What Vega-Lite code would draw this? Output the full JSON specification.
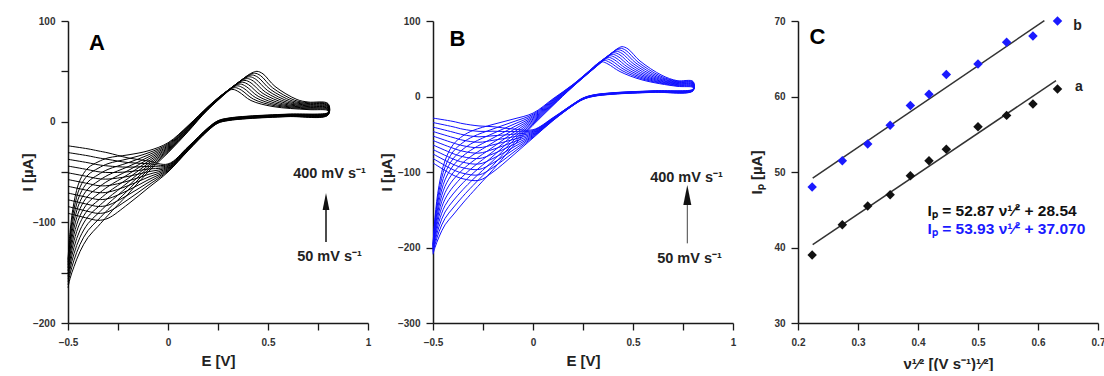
{
"$schema": "https://vega.github.io/schema/vega-lite/v6.json",
"padding": {"left": 20, "top": 16, "right": 0, "bottom": 0},
"spacing": 65,
"bounds": "flush",
"config": {
  "view": {"stroke": null},
  "font": "Liberation Sans",
  "axis": {"grid": false, "ticks": true, "tickSize": 7, "domainColor": "#1a1a1a", "domainWidth": 1.5, "tickColor": "#1a1a1a", "tickWidth": 1.3, "labelFont": "Liberation Sans", "labelFontSize": 10, "labelFontWeight": "bold", "labelColor": "#333", "labelFlush": false, "labelOverlap": false, "titleFont": "Liberation Sans", "titleFontSize": 15, "titleFontWeight": "bold", "titleColor": "#222"}
},
"datasets": {
"A": [
{"k":0,"o":1,"E":-0.5,"I":-137},{"k":0,"o":2,"E":-0.49,"I":-110},{"k":0,"o":3,"E":-0.47,"I":-80},{"k":0,"o":4,"E":-0.44,"I":-58},{"k":0,"o":5,"E":-0.4,"I":-46},{"k":0,"o":6,"E":-0.35,"I":-40},{"k":0,"o":7,"E":-0.3,"I":-36},{"k":0,"o":8,"E":-0.2,"I":-33},{"k":0,"o":9,"E":-0.1,"I":-29},{"k":0,"o":10,"E":0,"I":-21},{"k":0,"o":11,"E":0.1,"I":-4},{"k":0,"o":12,"E":0.2,"I":15},{"k":0,"o":13,"E":0.265,"I":26},{"k":0,"o":14,"E":0.3,"I":30.5},{"k":0,"o":15,"E":0.325,"I":32},{"k":0,"o":16,"E":0.355,"I":29.5},{"k":0,"o":17,"E":0.415,"I":21},{"k":0,"o":18,"E":0.525,"I":15},{"k":0,"o":19,"E":0.7,"I":12},{"k":0,"o":20,"E":0.8,"I":11},{"k":0,"o":21,"E":0.8,"I":9},{"k":0,"o":22,"E":0.6,"I":7.5},{"k":0,"o":23,"E":0.4,"I":5.5},{"k":0,"o":24,"E":0.3,"I":3.5},{"k":0,"o":25,"E":0.25,"I":1},{"k":0,"o":26,"E":0.2,"I":-6},{"k":0,"o":27,"E":0.1,"I":-25},{"k":0,"o":28,"E":0,"I":-42},{"k":0,"o":29,"E":-0.1,"I":-39},{"k":0,"o":30,"E":-0.2,"I":-36},{"k":0,"o":31,"E":-0.3,"I":-31},{"k":0,"o":32,"E":-0.35,"I":-29},{"k":0,"o":33,"E":-0.4,"I":-27},{"k":0,"o":34,"E":-0.5,"I":-24},
{"k":1,"o":1,"E":-0.5,"I":-139.8},{"k":1,"o":2,"E":-0.49,"I":-114.6},{"k":1,"o":3,"E":-0.47,"I":-86.4},{"k":1,"o":4,"E":-0.44,"I":-65.1},{"k":1,"o":5,"E":-0.4,"I":-52.9},{"k":1,"o":6,"E":-0.35,"I":-46.4},{"k":1,"o":7,"E":-0.3,"I":-41.7},{"k":1,"o":8,"E":-0.2,"I":-36.9},{"k":1,"o":9,"E":-0.1,"I":-31.1},{"k":1,"o":10,"E":0,"I":-22},{"k":1,"o":11,"E":0.1,"I":-4.6},{"k":1,"o":12,"E":0.2,"I":14.7},{"k":1,"o":13,"E":0.277,"I":27.8},{"k":1,"o":14,"E":0.312,"I":32.3},{"k":1,"o":15,"E":0.337,"I":33.8},{"k":1,"o":16,"E":0.367,"I":31.3},{"k":1,"o":17,"E":0.427,"I":22.4},{"k":1,"o":18,"E":0.537,"I":15.7},{"k":1,"o":19,"E":0.7,"I":12.75},{"k":1,"o":20,"E":0.8,"I":11.7},{"k":1,"o":21,"E":0.8,"I":8.75},{"k":1,"o":22,"E":0.6,"I":7.25},{"k":1,"o":23,"E":0.4,"I":5.25},{"k":1,"o":24,"E":0.3,"I":3.25},{"k":1,"o":25,"E":0.25,"I":0.75},{"k":1,"o":26,"E":0.2,"I":-6.3},{"k":1,"o":27,"E":0.1,"I":-25.4},{"k":1,"o":28,"E":0,"I":-42.8},{"k":1,"o":29,"E":-0.1,"I":-41.7},{"k":1,"o":30,"E":-0.2,"I":-40.6},{"k":1,"o":31,"E":-0.3,"I":-37.5},{"k":1,"o":32,"E":-0.35,"I":-35.9},{"k":1,"o":33,"E":-0.4,"I":-33.9},{"k":1,"o":34,"E":-0.5,"I":-30.7},
{"k":2,"o":1,"E":-0.5,"I":-142.6},{"k":2,"o":2,"E":-0.49,"I":-119.2},{"k":2,"o":3,"E":-0.47,"I":-92.8},{"k":2,"o":4,"E":-0.44,"I":-72.2},{"k":2,"o":5,"E":-0.4,"I":-59.8},{"k":2,"o":6,"E":-0.35,"I":-52.8},{"k":2,"o":7,"E":-0.3,"I":-47.4},{"k":2,"o":8,"E":-0.2,"I":-40.8},{"k":2,"o":9,"E":-0.1,"I":-33.2},{"k":2,"o":10,"E":0,"I":-23},{"k":2,"o":11,"E":0.1,"I":-5.2},{"k":2,"o":12,"E":0.2,"I":14.4},{"k":2,"o":13,"E":0.289,"I":29.6},{"k":2,"o":14,"E":0.324,"I":34.1},{"k":2,"o":15,"E":0.349,"I":35.6},{"k":2,"o":16,"E":0.379,"I":33.1},{"k":2,"o":17,"E":0.439,"I":23.8},{"k":2,"o":18,"E":0.549,"I":16.4},{"k":2,"o":19,"E":0.7,"I":13.5},{"k":2,"o":20,"E":0.8,"I":12.4},{"k":2,"o":21,"E":0.8,"I":8.5},{"k":2,"o":22,"E":0.6,"I":7},{"k":2,"o":23,"E":0.4,"I":5},{"k":2,"o":24,"E":0.3,"I":3},{"k":2,"o":25,"E":0.25,"I":0.5},{"k":2,"o":26,"E":0.2,"I":-6.6},{"k":2,"o":27,"E":0.1,"I":-25.8},{"k":2,"o":28,"E":0,"I":-43.6},{"k":2,"o":29,"E":-0.1,"I":-44.4},{"k":2,"o":30,"E":-0.2,"I":-45.2},{"k":2,"o":31,"E":-0.3,"I":-44},{"k":2,"o":32,"E":-0.35,"I":-42.8},{"k":2,"o":33,"E":-0.4,"I":-40.8},{"k":2,"o":34,"E":-0.5,"I":-37.4},
{"k":3,"o":1,"E":-0.5,"I":-145.4},{"k":3,"o":2,"E":-0.49,"I":-123.8},{"k":3,"o":3,"E":-0.47,"I":-99.2},{"k":3,"o":4,"E":-0.44,"I":-79.3},{"k":3,"o":5,"E":-0.4,"I":-66.7},{"k":3,"o":6,"E":-0.35,"I":-59.2},{"k":3,"o":7,"E":-0.3,"I":-53.1},{"k":3,"o":8,"E":-0.2,"I":-44.7},{"k":3,"o":9,"E":-0.1,"I":-35.3},{"k":3,"o":10,"E":0,"I":-24},{"k":3,"o":11,"E":0.1,"I":-5.8},{"k":3,"o":12,"E":0.2,"I":14.1},{"k":3,"o":13,"E":0.301,"I":31.4},{"k":3,"o":14,"E":0.336,"I":35.9},{"k":3,"o":15,"E":0.361,"I":37.4},{"k":3,"o":16,"E":0.391,"I":34.9},{"k":3,"o":17,"E":0.451,"I":25.2},{"k":3,"o":18,"E":0.561,"I":17.1},{"k":3,"o":19,"E":0.7,"I":14.25},{"k":3,"o":20,"E":0.8,"I":13.1},{"k":3,"o":21,"E":0.8,"I":8.25},{"k":3,"o":22,"E":0.6,"I":6.75},{"k":3,"o":23,"E":0.4,"I":4.75},{"k":3,"o":24,"E":0.3,"I":2.75},{"k":3,"o":25,"E":0.25,"I":0.25},{"k":3,"o":26,"E":0.2,"I":-6.9},{"k":3,"o":27,"E":0.1,"I":-26.2},{"k":3,"o":28,"E":0,"I":-44.4},{"k":3,"o":29,"E":-0.1,"I":-47.1},{"k":3,"o":30,"E":-0.2,"I":-49.8},{"k":3,"o":31,"E":-0.3,"I":-50.5},{"k":3,"o":32,"E":-0.35,"I":-49.7},{"k":3,"o":33,"E":-0.4,"I":-47.7},{"k":3,"o":34,"E":-0.5,"I":-44.1},
{"k":4,"o":1,"E":-0.5,"I":-148.2},{"k":4,"o":2,"E":-0.49,"I":-128.4},{"k":4,"o":3,"E":-0.47,"I":-105.6},{"k":4,"o":4,"E":-0.44,"I":-86.4},{"k":4,"o":5,"E":-0.4,"I":-73.6},{"k":4,"o":6,"E":-0.35,"I":-65.6},{"k":4,"o":7,"E":-0.3,"I":-58.8},{"k":4,"o":8,"E":-0.2,"I":-48.6},{"k":4,"o":9,"E":-0.1,"I":-37.4},{"k":4,"o":10,"E":0,"I":-25},{"k":4,"o":11,"E":0.1,"I":-6.4},{"k":4,"o":12,"E":0.2,"I":13.8},{"k":4,"o":13,"E":0.313,"I":33.2},{"k":4,"o":14,"E":0.348,"I":37.7},{"k":4,"o":15,"E":0.373,"I":39.2},{"k":4,"o":16,"E":0.403,"I":36.7},{"k":4,"o":17,"E":0.463,"I":26.6},{"k":4,"o":18,"E":0.573,"I":17.8},{"k":4,"o":19,"E":0.7,"I":15},{"k":4,"o":20,"E":0.8,"I":13.8},{"k":4,"o":21,"E":0.8,"I":8},{"k":4,"o":22,"E":0.6,"I":6.5},{"k":4,"o":23,"E":0.4,"I":4.5},{"k":4,"o":24,"E":0.3,"I":2.5},{"k":4,"o":25,"E":0.25,"I":0},{"k":4,"o":26,"E":0.2,"I":-7.2},{"k":4,"o":27,"E":0.1,"I":-26.6},{"k":4,"o":28,"E":0,"I":-45.2},{"k":4,"o":29,"E":-0.1,"I":-49.8},{"k":4,"o":30,"E":-0.2,"I":-54.4},{"k":4,"o":31,"E":-0.3,"I":-57},{"k":4,"o":32,"E":-0.35,"I":-56.6},{"k":4,"o":33,"E":-0.4,"I":-54.6},{"k":4,"o":34,"E":-0.5,"I":-50.8},
{"k":5,"o":1,"E":-0.5,"I":-151},{"k":5,"o":2,"E":-0.49,"I":-133},{"k":5,"o":3,"E":-0.47,"I":-112},{"k":5,"o":4,"E":-0.44,"I":-93.5},{"k":5,"o":5,"E":-0.4,"I":-80.5},{"k":5,"o":6,"E":-0.35,"I":-72},{"k":5,"o":7,"E":-0.3,"I":-64.5},{"k":5,"o":8,"E":-0.2,"I":-52.5},{"k":5,"o":9,"E":-0.1,"I":-39.5},{"k":5,"o":10,"E":0,"I":-26},{"k":5,"o":11,"E":0.1,"I":-7},{"k":5,"o":12,"E":0.2,"I":13.5},{"k":5,"o":13,"E":0.325,"I":35},{"k":5,"o":14,"E":0.36,"I":39.5},{"k":5,"o":15,"E":0.385,"I":41},{"k":5,"o":16,"E":0.415,"I":38.5},{"k":5,"o":17,"E":0.475,"I":28},{"k":5,"o":18,"E":0.585,"I":18.5},{"k":5,"o":19,"E":0.7,"I":15.75},{"k":5,"o":20,"E":0.8,"I":14.5},{"k":5,"o":21,"E":0.8,"I":7.75},{"k":5,"o":22,"E":0.6,"I":6.25},{"k":5,"o":23,"E":0.4,"I":4.25},{"k":5,"o":24,"E":0.3,"I":2.25},{"k":5,"o":25,"E":0.25,"I":-0.25},{"k":5,"o":26,"E":0.2,"I":-7.5},{"k":5,"o":27,"E":0.1,"I":-27},{"k":5,"o":28,"E":0,"I":-46},{"k":5,"o":29,"E":-0.1,"I":-52.5},{"k":5,"o":30,"E":-0.2,"I":-59},{"k":5,"o":31,"E":-0.3,"I":-63.5},{"k":5,"o":32,"E":-0.35,"I":-63.5},{"k":5,"o":33,"E":-0.4,"I":-61.5},{"k":5,"o":34,"E":-0.5,"I":-57.5},
{"k":6,"o":1,"E":-0.5,"I":-153.8},{"k":6,"o":2,"E":-0.49,"I":-137.6},{"k":6,"o":3,"E":-0.47,"I":-118.4},{"k":6,"o":4,"E":-0.44,"I":-100.6},{"k":6,"o":5,"E":-0.4,"I":-87.4},{"k":6,"o":6,"E":-0.35,"I":-78.4},{"k":6,"o":7,"E":-0.3,"I":-70.2},{"k":6,"o":8,"E":-0.2,"I":-56.4},{"k":6,"o":9,"E":-0.1,"I":-41.6},{"k":6,"o":10,"E":0,"I":-27},{"k":6,"o":11,"E":0.1,"I":-7.6},{"k":6,"o":12,"E":0.2,"I":13.2},{"k":6,"o":13,"E":0.337,"I":36.8},{"k":6,"o":14,"E":0.372,"I":41.3},{"k":6,"o":15,"E":0.397,"I":42.8},{"k":6,"o":16,"E":0.427,"I":40.3},{"k":6,"o":17,"E":0.487,"I":29.4},{"k":6,"o":18,"E":0.597,"I":19.2},{"k":6,"o":19,"E":0.7,"I":16.5},{"k":6,"o":20,"E":0.8,"I":15.2},{"k":6,"o":21,"E":0.8,"I":7.5},{"k":6,"o":22,"E":0.6,"I":6},{"k":6,"o":23,"E":0.4,"I":4},{"k":6,"o":24,"E":0.3,"I":2},{"k":6,"o":25,"E":0.25,"I":-0.5},{"k":6,"o":26,"E":0.2,"I":-7.8},{"k":6,"o":27,"E":0.1,"I":-27.4},{"k":6,"o":28,"E":0,"I":-46.8},{"k":6,"o":29,"E":-0.1,"I":-55.2},{"k":6,"o":30,"E":-0.2,"I":-63.6},{"k":6,"o":31,"E":-0.3,"I":-70},{"k":6,"o":32,"E":-0.35,"I":-70.4},{"k":6,"o":33,"E":-0.4,"I":-68.4},{"k":6,"o":34,"E":-0.5,"I":-64.2},
{"k":7,"o":1,"E":-0.5,"I":-156.6},{"k":7,"o":2,"E":-0.49,"I":-142.2},{"k":7,"o":3,"E":-0.47,"I":-124.8},{"k":7,"o":4,"E":-0.44,"I":-107.7},{"k":7,"o":5,"E":-0.4,"I":-94.3},{"k":7,"o":6,"E":-0.35,"I":-84.8},{"k":7,"o":7,"E":-0.3,"I":-75.9},{"k":7,"o":8,"E":-0.2,"I":-60.3},{"k":7,"o":9,"E":-0.1,"I":-43.7},{"k":7,"o":10,"E":0,"I":-28},{"k":7,"o":11,"E":0.1,"I":-8.2},{"k":7,"o":12,"E":0.2,"I":12.9},{"k":7,"o":13,"E":0.349,"I":38.6},{"k":7,"o":14,"E":0.384,"I":43.1},{"k":7,"o":15,"E":0.409,"I":44.6},{"k":7,"o":16,"E":0.439,"I":42.1},{"k":7,"o":17,"E":0.499,"I":30.8},{"k":7,"o":18,"E":0.609,"I":19.9},{"k":7,"o":19,"E":0.7,"I":17.25},{"k":7,"o":20,"E":0.8,"I":15.9},{"k":7,"o":21,"E":0.8,"I":7.25},{"k":7,"o":22,"E":0.6,"I":5.75},{"k":7,"o":23,"E":0.4,"I":3.75},{"k":7,"o":24,"E":0.3,"I":1.75},{"k":7,"o":25,"E":0.25,"I":-0.75},{"k":7,"o":26,"E":0.2,"I":-8.1},{"k":7,"o":27,"E":0.1,"I":-27.8},{"k":7,"o":28,"E":0,"I":-47.6},{"k":7,"o":29,"E":-0.1,"I":-57.9},{"k":7,"o":30,"E":-0.2,"I":-68.2},{"k":7,"o":31,"E":-0.3,"I":-76.5},{"k":7,"o":32,"E":-0.35,"I":-77.3},{"k":7,"o":33,"E":-0.4,"I":-75.3},{"k":7,"o":34,"E":-0.5,"I":-70.9},
{"k":8,"o":1,"E":-0.5,"I":-159.4},{"k":8,"o":2,"E":-0.49,"I":-146.8},{"k":8,"o":3,"E":-0.47,"I":-131.2},{"k":8,"o":4,"E":-0.44,"I":-114.8},{"k":8,"o":5,"E":-0.4,"I":-101.2},{"k":8,"o":6,"E":-0.35,"I":-91.2},{"k":8,"o":7,"E":-0.3,"I":-81.6},{"k":8,"o":8,"E":-0.2,"I":-64.2},{"k":8,"o":9,"E":-0.1,"I":-45.8},{"k":8,"o":10,"E":0,"I":-29},{"k":8,"o":11,"E":0.1,"I":-8.8},{"k":8,"o":12,"E":0.2,"I":12.6},{"k":8,"o":13,"E":0.361,"I":40.4},{"k":8,"o":14,"E":0.396,"I":44.9},{"k":8,"o":15,"E":0.421,"I":46.4},{"k":8,"o":16,"E":0.451,"I":43.9},{"k":8,"o":17,"E":0.511,"I":32.2},{"k":8,"o":18,"E":0.621,"I":20.6},{"k":8,"o":19,"E":0.7,"I":18},{"k":8,"o":20,"E":0.8,"I":16.6},{"k":8,"o":21,"E":0.8,"I":7},{"k":8,"o":22,"E":0.6,"I":5.5},{"k":8,"o":23,"E":0.4,"I":3.5},{"k":8,"o":24,"E":0.3,"I":1.5},{"k":8,"o":25,"E":0.25,"I":-1},{"k":8,"o":26,"E":0.2,"I":-8.4},{"k":8,"o":27,"E":0.1,"I":-28.2},{"k":8,"o":28,"E":0,"I":-48.4},{"k":8,"o":29,"E":-0.1,"I":-60.6},{"k":8,"o":30,"E":-0.2,"I":-72.8},{"k":8,"o":31,"E":-0.3,"I":-83},{"k":8,"o":32,"E":-0.35,"I":-84.2},{"k":8,"o":33,"E":-0.4,"I":-82.2},{"k":8,"o":34,"E":-0.5,"I":-77.6},
{"k":9,"o":1,"E":-0.5,"I":-162.2},{"k":9,"o":2,"E":-0.49,"I":-151.4},{"k":9,"o":3,"E":-0.47,"I":-137.6},{"k":9,"o":4,"E":-0.44,"I":-121.9},{"k":9,"o":5,"E":-0.4,"I":-108.1},{"k":9,"o":6,"E":-0.35,"I":-97.6},{"k":9,"o":7,"E":-0.3,"I":-87.3},{"k":9,"o":8,"E":-0.2,"I":-68.1},{"k":9,"o":9,"E":-0.1,"I":-47.9},{"k":9,"o":10,"E":0,"I":-30},{"k":9,"o":11,"E":0.1,"I":-9.4},{"k":9,"o":12,"E":0.2,"I":12.3},{"k":9,"o":13,"E":0.373,"I":42.2},{"k":9,"o":14,"E":0.408,"I":46.7},{"k":9,"o":15,"E":0.433,"I":48.2},{"k":9,"o":16,"E":0.463,"I":45.7},{"k":9,"o":17,"E":0.523,"I":33.6},{"k":9,"o":18,"E":0.633,"I":21.3},{"k":9,"o":19,"E":0.7,"I":18.75},{"k":9,"o":20,"E":0.8,"I":17.3},{"k":9,"o":21,"E":0.8,"I":6.75},{"k":9,"o":22,"E":0.6,"I":5.25},{"k":9,"o":23,"E":0.4,"I":3.25},{"k":9,"o":24,"E":0.3,"I":1.25},{"k":9,"o":25,"E":0.25,"I":-1.25},{"k":9,"o":26,"E":0.2,"I":-8.7},{"k":9,"o":27,"E":0.1,"I":-28.6},{"k":9,"o":28,"E":0,"I":-49.2},{"k":9,"o":29,"E":-0.1,"I":-63.3},{"k":9,"o":30,"E":-0.2,"I":-77.4},{"k":9,"o":31,"E":-0.3,"I":-89.5},{"k":9,"o":32,"E":-0.35,"I":-91.1},{"k":9,"o":33,"E":-0.4,"I":-89.1},{"k":9,"o":34,"E":-0.5,"I":-84.3},
{"k":10,"o":1,"E":-0.5,"I":-165},{"k":10,"o":2,"E":-0.49,"I":-156},{"k":10,"o":3,"E":-0.47,"I":-144},{"k":10,"o":4,"E":-0.44,"I":-129},{"k":10,"o":5,"E":-0.4,"I":-115},{"k":10,"o":6,"E":-0.35,"I":-104},{"k":10,"o":7,"E":-0.3,"I":-93},{"k":10,"o":8,"E":-0.2,"I":-72},{"k":10,"o":9,"E":-0.1,"I":-50},{"k":10,"o":10,"E":0,"I":-31},{"k":10,"o":11,"E":0.1,"I":-10},{"k":10,"o":12,"E":0.2,"I":12},{"k":10,"o":13,"E":0.385,"I":44},{"k":10,"o":14,"E":0.42,"I":48.5},{"k":10,"o":15,"E":0.445,"I":50},{"k":10,"o":16,"E":0.475,"I":47.5},{"k":10,"o":17,"E":0.535,"I":35},{"k":10,"o":18,"E":0.645,"I":22},{"k":10,"o":19,"E":0.7,"I":19.5},{"k":10,"o":20,"E":0.8,"I":18},{"k":10,"o":21,"E":0.8,"I":6.5},{"k":10,"o":22,"E":0.6,"I":5},{"k":10,"o":23,"E":0.4,"I":3},{"k":10,"o":24,"E":0.3,"I":1},{"k":10,"o":25,"E":0.25,"I":-1.5},{"k":10,"o":26,"E":0.2,"I":-9},{"k":10,"o":27,"E":0.1,"I":-29},{"k":10,"o":28,"E":0,"I":-50},{"k":10,"o":29,"E":-0.1,"I":-66},{"k":10,"o":30,"E":-0.2,"I":-82},{"k":10,"o":31,"E":-0.3,"I":-96},{"k":10,"o":32,"E":-0.35,"I":-98},{"k":10,"o":33,"E":-0.4,"I":-96},{"k":10,"o":34,"E":-0.5,"I":-91}
],
"B": [
{"k":0,"o":1,"E":-0.5,"I":-196},{"k":0,"o":2,"E":-0.49,"I":-160},{"k":0,"o":3,"E":-0.47,"I":-118},{"k":0,"o":4,"E":-0.44,"I":-85},{"k":0,"o":5,"E":-0.4,"I":-64},{"k":0,"o":6,"E":-0.35,"I":-52},{"k":0,"o":7,"E":-0.3,"I":-45},{"k":0,"o":8,"E":-0.2,"I":-37},{"k":0,"o":9,"E":-0.1,"I":-30},{"k":0,"o":10,"E":0,"I":-22},{"k":0,"o":11,"E":0.1,"I":-3},{"k":0,"o":12,"E":0.2,"I":16},{"k":0,"o":13,"E":0.285,"I":35},{"k":0,"o":14,"E":0.32,"I":43},{"k":0,"o":15,"E":0.345,"I":46},{"k":0,"o":16,"E":0.375,"I":43},{"k":0,"o":17,"E":0.435,"I":33},{"k":0,"o":18,"E":0.545,"I":22},{"k":0,"o":19,"E":0.72,"I":13.5},{"k":0,"o":20,"E":0.8,"I":12},{"k":0,"o":21,"E":0.8,"I":9.5},{"k":0,"o":22,"E":0.6,"I":7.5},{"k":0,"o":23,"E":0.4,"I":5},{"k":0,"o":24,"E":0.3,"I":2},{"k":0,"o":25,"E":0.25,"I":-2},{"k":0,"o":26,"E":0.2,"I":-10},{"k":0,"o":27,"E":0.1,"I":-28},{"k":0,"o":28,"E":0,"I":-44},{"k":0,"o":29,"E":-0.1,"I":-43},{"k":0,"o":30,"E":-0.2,"I":-40},{"k":0,"o":31,"E":-0.27,"I":-39},{"k":0,"o":32,"E":-0.35,"I":-36},{"k":0,"o":33,"E":-0.4,"I":-33},{"k":0,"o":34,"E":-0.5,"I":-28.6},
{"k":1,"o":1,"E":-0.5,"I":-197.3},{"k":1,"o":2,"E":-0.49,"I":-164},{"k":1,"o":3,"E":-0.47,"I":-124.8},{"k":1,"o":4,"E":-0.44,"I":-93.5},{"k":1,"o":5,"E":-0.4,"I":-73.3},{"k":1,"o":6,"E":-0.35,"I":-60.9},{"k":1,"o":7,"E":-0.3,"I":-53.1},{"k":1,"o":8,"E":-0.2,"I":-43},{"k":1,"o":9,"E":-0.1,"I":-33.6},{"k":1,"o":10,"E":0,"I":-23.6},{"k":1,"o":11,"E":0.1,"I":-3.9},{"k":1,"o":12,"E":0.2,"I":15.7},{"k":1,"o":13,"E":0.295,"I":37},{"k":1,"o":14,"E":0.33,"I":45},{"k":1,"o":15,"E":0.355,"I":48},{"k":1,"o":16,"E":0.385,"I":45},{"k":1,"o":17,"E":0.445,"I":34.4},{"k":1,"o":18,"E":0.555,"I":22.6},{"k":1,"o":19,"E":0.72,"I":14.25},{"k":1,"o":20,"E":0.8,"I":12.8},{"k":1,"o":21,"E":0.8,"I":9.3},{"k":1,"o":22,"E":0.6,"I":7.3},{"k":1,"o":23,"E":0.4,"I":4.8},{"k":1,"o":24,"E":0.3,"I":1.8},{"k":1,"o":25,"E":0.25,"I":-2.2},{"k":1,"o":26,"E":0.2,"I":-10.2},{"k":1,"o":27,"E":0.1,"I":-28.4},{"k":1,"o":28,"E":0,"I":-45.1},{"k":1,"o":29,"E":-0.1,"I":-46.5},{"k":1,"o":30,"E":-0.2,"I":-46},{"k":1,"o":31,"E":-0.27,"I":-46.2},{"k":1,"o":32,"E":-0.35,"I":-43.3},{"k":1,"o":33,"E":-0.4,"I":-40.1},{"k":1,"o":34,"E":-0.5,"I":-34.5},
{"k":2,"o":1,"E":-0.5,"I":-198.6},{"k":2,"o":2,"E":-0.49,"I":-168},{"k":2,"o":3,"E":-0.47,"I":-131.6},{"k":2,"o":4,"E":-0.44,"I":-102},{"k":2,"o":5,"E":-0.4,"I":-82.6},{"k":2,"o":6,"E":-0.35,"I":-69.8},{"k":2,"o":7,"E":-0.3,"I":-61.2},{"k":2,"o":8,"E":-0.2,"I":-49},{"k":2,"o":9,"E":-0.1,"I":-37.2},{"k":2,"o":10,"E":0,"I":-25.2},{"k":2,"o":11,"E":0.1,"I":-4.8},{"k":2,"o":12,"E":0.2,"I":15.4},{"k":2,"o":13,"E":0.305,"I":39},{"k":2,"o":14,"E":0.34,"I":47},{"k":2,"o":15,"E":0.365,"I":50},{"k":2,"o":16,"E":0.395,"I":47},{"k":2,"o":17,"E":0.455,"I":35.8},{"k":2,"o":18,"E":0.565,"I":23.2},{"k":2,"o":19,"E":0.72,"I":15},{"k":2,"o":20,"E":0.8,"I":13.6},{"k":2,"o":21,"E":0.8,"I":9.1},{"k":2,"o":22,"E":0.6,"I":7.1},{"k":2,"o":23,"E":0.4,"I":4.6},{"k":2,"o":24,"E":0.3,"I":1.6},{"k":2,"o":25,"E":0.25,"I":-2.4},{"k":2,"o":26,"E":0.2,"I":-10.4},{"k":2,"o":27,"E":0.1,"I":-28.8},{"k":2,"o":28,"E":0,"I":-46.2},{"k":2,"o":29,"E":-0.1,"I":-50},{"k":2,"o":30,"E":-0.2,"I":-52},{"k":2,"o":31,"E":-0.27,"I":-53.4},{"k":2,"o":32,"E":-0.35,"I":-50.6},{"k":2,"o":33,"E":-0.4,"I":-47.2},{"k":2,"o":34,"E":-0.5,"I":-40.5},
{"k":3,"o":1,"E":-0.5,"I":-199.9},{"k":3,"o":2,"E":-0.49,"I":-172},{"k":3,"o":3,"E":-0.47,"I":-138.4},{"k":3,"o":4,"E":-0.44,"I":-110.5},{"k":3,"o":5,"E":-0.4,"I":-91.9},{"k":3,"o":6,"E":-0.35,"I":-78.7},{"k":3,"o":7,"E":-0.3,"I":-69.3},{"k":3,"o":8,"E":-0.2,"I":-55},{"k":3,"o":9,"E":-0.1,"I":-40.8},{"k":3,"o":10,"E":0,"I":-26.8},{"k":3,"o":11,"E":0.1,"I":-5.7},{"k":3,"o":12,"E":0.2,"I":15.1},{"k":3,"o":13,"E":0.315,"I":41},{"k":3,"o":14,"E":0.35,"I":49},{"k":3,"o":15,"E":0.375,"I":52},{"k":3,"o":16,"E":0.405,"I":49},{"k":3,"o":17,"E":0.465,"I":37.2},{"k":3,"o":18,"E":0.575,"I":23.8},{"k":3,"o":19,"E":0.72,"I":15.75},{"k":3,"o":20,"E":0.8,"I":14.4},{"k":3,"o":21,"E":0.8,"I":8.9},{"k":3,"o":22,"E":0.6,"I":6.9},{"k":3,"o":23,"E":0.4,"I":4.4},{"k":3,"o":24,"E":0.3,"I":1.4},{"k":3,"o":25,"E":0.25,"I":-2.6},{"k":3,"o":26,"E":0.2,"I":-10.6},{"k":3,"o":27,"E":0.1,"I":-29.2},{"k":3,"o":28,"E":0,"I":-47.3},{"k":3,"o":29,"E":-0.1,"I":-53.5},{"k":3,"o":30,"E":-0.2,"I":-58},{"k":3,"o":31,"E":-0.27,"I":-60.6},{"k":3,"o":32,"E":-0.35,"I":-57.9},{"k":3,"o":33,"E":-0.4,"I":-54.3},{"k":3,"o":34,"E":-0.5,"I":-46.4},
{"k":4,"o":1,"E":-0.5,"I":-201.2},{"k":4,"o":2,"E":-0.49,"I":-176},{"k":4,"o":3,"E":-0.47,"I":-145.2},{"k":4,"o":4,"E":-0.44,"I":-119},{"k":4,"o":5,"E":-0.4,"I":-101.2},{"k":4,"o":6,"E":-0.35,"I":-87.6},{"k":4,"o":7,"E":-0.3,"I":-77.4},{"k":4,"o":8,"E":-0.2,"I":-61},{"k":4,"o":9,"E":-0.1,"I":-44.4},{"k":4,"o":10,"E":0,"I":-28.4},{"k":4,"o":11,"E":0.1,"I":-6.6},{"k":4,"o":12,"E":0.2,"I":14.8},{"k":4,"o":13,"E":0.325,"I":43},{"k":4,"o":14,"E":0.36,"I":51},{"k":4,"o":15,"E":0.385,"I":54},{"k":4,"o":16,"E":0.415,"I":51},{"k":4,"o":17,"E":0.475,"I":38.6},{"k":4,"o":18,"E":0.585,"I":24.4},{"k":4,"o":19,"E":0.72,"I":16.5},{"k":4,"o":20,"E":0.8,"I":15.2},{"k":4,"o":21,"E":0.8,"I":8.7},{"k":4,"o":22,"E":0.6,"I":6.7},{"k":4,"o":23,"E":0.4,"I":4.2},{"k":4,"o":24,"E":0.3,"I":1.2},{"k":4,"o":25,"E":0.25,"I":-2.8},{"k":4,"o":26,"E":0.2,"I":-10.8},{"k":4,"o":27,"E":0.1,"I":-29.6},{"k":4,"o":28,"E":0,"I":-48.4},{"k":4,"o":29,"E":-0.1,"I":-57},{"k":4,"o":30,"E":-0.2,"I":-64},{"k":4,"o":31,"E":-0.27,"I":-67.8},{"k":4,"o":32,"E":-0.35,"I":-65.2},{"k":4,"o":33,"E":-0.4,"I":-61.4},{"k":4,"o":34,"E":-0.5,"I":-52.4},
{"k":5,"o":1,"E":-0.5,"I":-202.5},{"k":5,"o":2,"E":-0.49,"I":-180},{"k":5,"o":3,"E":-0.47,"I":-152},{"k":5,"o":4,"E":-0.44,"I":-127.5},{"k":5,"o":5,"E":-0.4,"I":-110.5},{"k":5,"o":6,"E":-0.35,"I":-96.5},{"k":5,"o":7,"E":-0.3,"I":-85.5},{"k":5,"o":8,"E":-0.2,"I":-67},{"k":5,"o":9,"E":-0.1,"I":-48},{"k":5,"o":10,"E":0,"I":-30},{"k":5,"o":11,"E":0.1,"I":-7.5},{"k":5,"o":12,"E":0.2,"I":14.5},{"k":5,"o":13,"E":0.335,"I":45},{"k":5,"o":14,"E":0.37,"I":53},{"k":5,"o":15,"E":0.395,"I":56},{"k":5,"o":16,"E":0.425,"I":53},{"k":5,"o":17,"E":0.485,"I":40},{"k":5,"o":18,"E":0.595,"I":25},{"k":5,"o":19,"E":0.72,"I":17.25},{"k":5,"o":20,"E":0.8,"I":16},{"k":5,"o":21,"E":0.8,"I":8.5},{"k":5,"o":22,"E":0.6,"I":6.5},{"k":5,"o":23,"E":0.4,"I":4},{"k":5,"o":24,"E":0.3,"I":1},{"k":5,"o":25,"E":0.25,"I":-3},{"k":5,"o":26,"E":0.2,"I":-11},{"k":5,"o":27,"E":0.1,"I":-30},{"k":5,"o":28,"E":0,"I":-49.5},{"k":5,"o":29,"E":-0.1,"I":-60.5},{"k":5,"o":30,"E":-0.2,"I":-70},{"k":5,"o":31,"E":-0.27,"I":-75},{"k":5,"o":32,"E":-0.35,"I":-72.5},{"k":5,"o":33,"E":-0.4,"I":-68.5},{"k":5,"o":34,"E":-0.5,"I":-58.3},
{"k":6,"o":1,"E":-0.5,"I":-203.8},{"k":6,"o":2,"E":-0.49,"I":-184},{"k":6,"o":3,"E":-0.47,"I":-158.8},{"k":6,"o":4,"E":-0.44,"I":-136},{"k":6,"o":5,"E":-0.4,"I":-119.8},{"k":6,"o":6,"E":-0.35,"I":-105.4},{"k":6,"o":7,"E":-0.3,"I":-93.6},{"k":6,"o":8,"E":-0.2,"I":-73},{"k":6,"o":9,"E":-0.1,"I":-51.6},{"k":6,"o":10,"E":0,"I":-31.6},{"k":6,"o":11,"E":0.1,"I":-8.4},{"k":6,"o":12,"E":0.2,"I":14.2},{"k":6,"o":13,"E":0.345,"I":47},{"k":6,"o":14,"E":0.38,"I":55},{"k":6,"o":15,"E":0.405,"I":58},{"k":6,"o":16,"E":0.435,"I":55},{"k":6,"o":17,"E":0.495,"I":41.4},{"k":6,"o":18,"E":0.605,"I":25.6},{"k":6,"o":19,"E":0.72,"I":18},{"k":6,"o":20,"E":0.8,"I":16.8},{"k":6,"o":21,"E":0.8,"I":8.3},{"k":6,"o":22,"E":0.6,"I":6.3},{"k":6,"o":23,"E":0.4,"I":3.8},{"k":6,"o":24,"E":0.3,"I":0.8},{"k":6,"o":25,"E":0.25,"I":-3.2},{"k":6,"o":26,"E":0.2,"I":-11.2},{"k":6,"o":27,"E":0.1,"I":-30.4},{"k":6,"o":28,"E":0,"I":-50.6},{"k":6,"o":29,"E":-0.1,"I":-64},{"k":6,"o":30,"E":-0.2,"I":-76},{"k":6,"o":31,"E":-0.27,"I":-82.2},{"k":6,"o":32,"E":-0.35,"I":-79.8},{"k":6,"o":33,"E":-0.4,"I":-75.6},{"k":6,"o":34,"E":-0.5,"I":-64.2},
{"k":7,"o":1,"E":-0.5,"I":-205.1},{"k":7,"o":2,"E":-0.49,"I":-188},{"k":7,"o":3,"E":-0.47,"I":-165.6},{"k":7,"o":4,"E":-0.44,"I":-144.5},{"k":7,"o":5,"E":-0.4,"I":-129.1},{"k":7,"o":6,"E":-0.35,"I":-114.3},{"k":7,"o":7,"E":-0.3,"I":-101.7},{"k":7,"o":8,"E":-0.2,"I":-79},{"k":7,"o":9,"E":-0.1,"I":-55.2},{"k":7,"o":10,"E":0,"I":-33.2},{"k":7,"o":11,"E":0.1,"I":-9.3},{"k":7,"o":12,"E":0.2,"I":13.9},{"k":7,"o":13,"E":0.355,"I":49},{"k":7,"o":14,"E":0.39,"I":57},{"k":7,"o":15,"E":0.415,"I":60},{"k":7,"o":16,"E":0.445,"I":57},{"k":7,"o":17,"E":0.505,"I":42.8},{"k":7,"o":18,"E":0.615,"I":26.2},{"k":7,"o":19,"E":0.72,"I":18.75},{"k":7,"o":20,"E":0.8,"I":17.6},{"k":7,"o":21,"E":0.8,"I":8.1},{"k":7,"o":22,"E":0.6,"I":6.1},{"k":7,"o":23,"E":0.4,"I":3.6},{"k":7,"o":24,"E":0.3,"I":0.6},{"k":7,"o":25,"E":0.25,"I":-3.4},{"k":7,"o":26,"E":0.2,"I":-11.4},{"k":7,"o":27,"E":0.1,"I":-30.8},{"k":7,"o":28,"E":0,"I":-51.7},{"k":7,"o":29,"E":-0.1,"I":-67.5},{"k":7,"o":30,"E":-0.2,"I":-82},{"k":7,"o":31,"E":-0.27,"I":-89.4},{"k":7,"o":32,"E":-0.35,"I":-87.1},{"k":7,"o":33,"E":-0.4,"I":-82.7},{"k":7,"o":34,"E":-0.5,"I":-70.2},
{"k":8,"o":1,"E":-0.5,"I":-206.4},{"k":8,"o":2,"E":-0.49,"I":-192},{"k":8,"o":3,"E":-0.47,"I":-172.4},{"k":8,"o":4,"E":-0.44,"I":-153},{"k":8,"o":5,"E":-0.4,"I":-138.4},{"k":8,"o":6,"E":-0.35,"I":-123.2},{"k":8,"o":7,"E":-0.3,"I":-109.8},{"k":8,"o":8,"E":-0.2,"I":-85},{"k":8,"o":9,"E":-0.1,"I":-58.8},{"k":8,"o":10,"E":0,"I":-34.8},{"k":8,"o":11,"E":0.1,"I":-10.2},{"k":8,"o":12,"E":0.2,"I":13.6},{"k":8,"o":13,"E":0.365,"I":51},{"k":8,"o":14,"E":0.4,"I":59},{"k":8,"o":15,"E":0.425,"I":62},{"k":8,"o":16,"E":0.455,"I":59},{"k":8,"o":17,"E":0.515,"I":44.2},{"k":8,"o":18,"E":0.625,"I":26.8},{"k":8,"o":19,"E":0.72,"I":19.5},{"k":8,"o":20,"E":0.8,"I":18.4},{"k":8,"o":21,"E":0.8,"I":7.9},{"k":8,"o":22,"E":0.6,"I":5.9},{"k":8,"o":23,"E":0.4,"I":3.4},{"k":8,"o":24,"E":0.3,"I":0.4},{"k":8,"o":25,"E":0.25,"I":-3.6},{"k":8,"o":26,"E":0.2,"I":-11.6},{"k":8,"o":27,"E":0.1,"I":-31.2},{"k":8,"o":28,"E":0,"I":-52.8},{"k":8,"o":29,"E":-0.1,"I":-71},{"k":8,"o":30,"E":-0.2,"I":-88},{"k":8,"o":31,"E":-0.27,"I":-96.6},{"k":8,"o":32,"E":-0.35,"I":-94.4},{"k":8,"o":33,"E":-0.4,"I":-89.8},{"k":8,"o":34,"E":-0.5,"I":-76.1},
{"k":9,"o":1,"E":-0.5,"I":-207.7},{"k":9,"o":2,"E":-0.49,"I":-196},{"k":9,"o":3,"E":-0.47,"I":-179.2},{"k":9,"o":4,"E":-0.44,"I":-161.5},{"k":9,"o":5,"E":-0.4,"I":-147.7},{"k":9,"o":6,"E":-0.35,"I":-132.1},{"k":9,"o":7,"E":-0.3,"I":-117.9},{"k":9,"o":8,"E":-0.2,"I":-91},{"k":9,"o":9,"E":-0.1,"I":-62.4},{"k":9,"o":10,"E":0,"I":-36.4},{"k":9,"o":11,"E":0.1,"I":-11.1},{"k":9,"o":12,"E":0.2,"I":13.3},{"k":9,"o":13,"E":0.375,"I":53},{"k":9,"o":14,"E":0.41,"I":61},{"k":9,"o":15,"E":0.435,"I":64},{"k":9,"o":16,"E":0.465,"I":61},{"k":9,"o":17,"E":0.525,"I":45.6},{"k":9,"o":18,"E":0.635,"I":27.4},{"k":9,"o":19,"E":0.72,"I":20.25},{"k":9,"o":20,"E":0.8,"I":19.2},{"k":9,"o":21,"E":0.8,"I":7.7},{"k":9,"o":22,"E":0.6,"I":5.7},{"k":9,"o":23,"E":0.4,"I":3.2},{"k":9,"o":24,"E":0.3,"I":0.2},{"k":9,"o":25,"E":0.25,"I":-3.8},{"k":9,"o":26,"E":0.2,"I":-11.8},{"k":9,"o":27,"E":0.1,"I":-31.6},{"k":9,"o":28,"E":0,"I":-53.9},{"k":9,"o":29,"E":-0.1,"I":-74.5},{"k":9,"o":30,"E":-0.2,"I":-94},{"k":9,"o":31,"E":-0.27,"I":-103.8},{"k":9,"o":32,"E":-0.35,"I":-101.7},{"k":9,"o":33,"E":-0.4,"I":-96.9},{"k":9,"o":34,"E":-0.5,"I":-82.1},
{"k":10,"o":1,"E":-0.5,"I":-209},{"k":10,"o":2,"E":-0.49,"I":-200},{"k":10,"o":3,"E":-0.47,"I":-186},{"k":10,"o":4,"E":-0.44,"I":-170},{"k":10,"o":5,"E":-0.4,"I":-157},{"k":10,"o":6,"E":-0.35,"I":-141},{"k":10,"o":7,"E":-0.3,"I":-126},{"k":10,"o":8,"E":-0.2,"I":-97},{"k":10,"o":9,"E":-0.1,"I":-66},{"k":10,"o":10,"E":0,"I":-38},{"k":10,"o":11,"E":0.1,"I":-12},{"k":10,"o":12,"E":0.2,"I":13},{"k":10,"o":13,"E":0.385,"I":55},{"k":10,"o":14,"E":0.42,"I":63},{"k":10,"o":15,"E":0.445,"I":66},{"k":10,"o":16,"E":0.475,"I":63},{"k":10,"o":17,"E":0.535,"I":47},{"k":10,"o":18,"E":0.645,"I":28},{"k":10,"o":19,"E":0.72,"I":21},{"k":10,"o":20,"E":0.8,"I":20},{"k":10,"o":21,"E":0.8,"I":7.5},{"k":10,"o":22,"E":0.6,"I":5.5},{"k":10,"o":23,"E":0.4,"I":3},{"k":10,"o":24,"E":0.3,"I":0},{"k":10,"o":25,"E":0.25,"I":-4},{"k":10,"o":26,"E":0.2,"I":-12},{"k":10,"o":27,"E":0.1,"I":-32},{"k":10,"o":28,"E":0,"I":-55},{"k":10,"o":29,"E":-0.1,"I":-78},{"k":10,"o":30,"E":-0.2,"I":-100},{"k":10,"o":31,"E":-0.27,"I":-111},{"k":10,"o":32,"E":-0.35,"I":-109},{"k":10,"o":33,"E":-0.4,"I":-104},{"k":10,"o":34,"E":-0.5,"I":-88}
],
"Cpts": [
{"x":0.2236,"y":39,"s":"a"},{"x":0.2739,"y":43,"s":"a"},{"x":0.3162,"y":45.5,"s":"a"},{"x":0.3536,"y":47,"s":"a"},{"x":0.3873,"y":49.5,"s":"a"},{"x":0.4183,"y":51.5,"s":"a"},{"x":0.4472,"y":53,"s":"a"},{"x":0.5,"y":56,"s":"a"},{"x":0.5477,"y":57.5,"s":"a"},{"x":0.5916,"y":59,"s":"a"},{"x":0.6325,"y":61,"s":"a"},
{"x":0.2236,"y":48,"s":"b"},{"x":0.2739,"y":51.5,"s":"b"},{"x":0.3162,"y":53.7,"s":"b"},{"x":0.3536,"y":56.2,"s":"b"},{"x":0.3873,"y":58.8,"s":"b"},{"x":0.4183,"y":60.3,"s":"b"},{"x":0.4472,"y":62.9,"s":"b"},{"x":0.5,"y":64.3,"s":"b"},{"x":0.5477,"y":67.2,"s":"b"},{"x":0.5916,"y":68,"s":"b"},{"x":0.6325,"y":70,"s":"b"}
],
"Cfit": [
{"x":0.2245,"y":40.37,"s":"a"},{"x":0.63,"y":62.1,"s":"a"},
{"x":0.2245,"y":49.2,"s":"b"},{"x":0.6106,"y":70.04,"s":"b"}
]
},
"hconcat": [
{
 "width": 300, "height": 302,
 "layer": [
  {"data": {"name": "A"},
   "mark": {"type": "line", "interpolate": "catmull-rom", "strokeWidth": 1, "color": "#000"},
   "encoding": {
    "x": {"field": "E", "type": "quantitative", "scale": {"domain": [-0.5, 1], "nice": false, "zero": false},
      "axis": {"title": "E [V]", "values": [-0.5,-0.25,0,0.25,0.5,0.75,1], "format": "~g", "labelExpr": "abs(datum.value % 0.5) < 0.001 ? datum.label : ''", "labelPadding": 7, "titleX": 150, "titleY": 37, "titleBaseline": "middle", "titleAlign": "center"}},
    "y": {"field": "I", "type": "quantitative", "scale": {"domain": [-200, 100], "nice": false, "zero": false},
      "axis": {"title": "I [µA]", "values": [-200,-150,-100,-50,0,50,100], "labelExpr": "datum.value % 100 === 0 ? datum.label : ''", "labelPadding": 6, "titleX": -41, "titleY": 151, "titleAngle": 270, "titleBaseline": "middle", "titleAlign": "center"}},
    "detail": {"field": "k", "type": "nominal"},
    "order": {"field": "o", "type": "quantitative"}
   }},
  {"data": {"values": [{"E": 0.79, "I": -119.5, "I2": -86}]},
   "mark": {"type": "rule", "strokeWidth": 1.5, "color": "#111"},
   "encoding": {"x": {"field": "E", "type": "quantitative"}, "y": {"field": "I", "type": "quantitative"}, "y2": {"field": "I2"}}},
  {"data": {"values": [{"E": 0.79, "I": -79.3}]},
   "mark": {"type": "point", "shape": "M0,-1L0.4,1L-0.4,1Z", "size": 289, "filled": true, "opacity": 1, "color": "#111"},
   "encoding": {"x": {"field": "E", "type": "quantitative"}, "y": {"field": "I", "type": "quantitative"}}},
  {"data": {"values": [{"E": 0.8075, "I": -52, "t": "400 mV s⁻¹"}, {"E": 0.8075, "I": -134, "t": "50 mV s⁻¹"}]},
   "mark": {"type": "text", "font": "Liberation Sans", "fontSize": 14.5, "fontWeight": "bold", "color": "#222", "align": "center", "baseline": "middle"},
   "encoding": {"x": {"field": "E", "type": "quantitative"}, "y": {"field": "I", "type": "quantitative"}, "text": {"field": "t"}}},
  {"data": {"values": [{"E": -0.355, "I": 78, "t": "A"}]},
   "mark": {"type": "text", "font": "Liberation Sans", "fontSize": 22, "fontWeight": "bold", "color": "#000", "align": "center", "baseline": "middle"},
   "encoding": {"x": {"field": "E", "type": "quantitative"}, "y": {"field": "I", "type": "quantitative"}, "text": {"field": "t"}}}
 ]
},
{
 "width": 300, "height": 302,
 "layer": [
  {"data": {"name": "B"},
   "mark": {"type": "line", "interpolate": "catmull-rom", "strokeWidth": 1, "color": "#1010ff"},
   "encoding": {
    "x": {"field": "E", "type": "quantitative", "scale": {"domain": [-0.5, 1], "nice": false, "zero": false},
      "axis": {"title": "E [V]", "values": [-0.5,-0.25,0,0.25,0.5,0.75,1], "format": "~g", "labelExpr": "abs(datum.value % 0.5) < 0.001 ? datum.label : ''", "labelPadding": 7, "titleX": 150, "titleY": 37, "titleBaseline": "middle", "titleAlign": "center"}},
    "y": {"field": "I", "type": "quantitative", "scale": {"domain": [-300, 100], "nice": false, "zero": false},
      "axis": {"title": "I [µA]", "values": [-300,-250,-200,-150,-100,-50,0,50,100], "labelExpr": "datum.value % 100 === 0 ? datum.label : ''", "labelPadding": 6, "titleX": -47, "titleY": 151, "titleAngle": 270, "titleBaseline": "middle", "titleAlign": "center"}},
    "detail": {"field": "k", "type": "nominal"},
    "order": {"field": "o", "type": "quantitative"}
   }},
  {"data": {"values": [{"E": 0.7715, "I": -194.5, "I2": -142}]},
   "mark": {"type": "rule", "strokeWidth": 1, "color": "#444"},
   "encoding": {"x": {"field": "E", "type": "quantitative"}, "y": {"field": "I", "type": "quantitative"}, "y2": {"field": "I2"}}},
  {"data": {"values": [{"E": 0.7715, "I": -130.5}]},
   "mark": {"type": "point", "shape": "M0,-1L0.4,1L-0.4,1Z", "size": 400, "filled": true, "opacity": 1, "color": "#111"},
   "encoding": {"x": {"field": "E", "type": "quantitative"}, "y": {"field": "I", "type": "quantitative"}}},
  {"data": {"values": [{"E": 0.7675, "I": -107.3, "t": "400 mV s⁻¹"}, {"E": 0.7825, "I": -215.2, "t": "50 mV s⁻¹"}]},
   "mark": {"type": "text", "font": "Liberation Sans", "fontSize": 14.5, "fontWeight": "bold", "color": "#222", "align": "center", "baseline": "middle"},
   "encoding": {"x": {"field": "E", "type": "quantitative"}, "y": {"field": "I", "type": "quantitative"}, "text": {"field": "t"}}},
  {"data": {"values": [{"E": -0.378, "I": 76.8, "t": "B"}]},
   "mark": {"type": "text", "font": "Liberation Sans", "fontSize": 22, "fontWeight": "bold", "color": "#000", "align": "center", "baseline": "middle"},
   "encoding": {"x": {"field": "E", "type": "quantitative"}, "y": {"field": "I", "type": "quantitative"}, "text": {"field": "t"}}}
 ]
},
{
 "width": 300, "height": 302,
 "layer": [
  {"data": {"name": "Cfit"},
   "mark": {"type": "line", "strokeWidth": 1.5, "color": "#333"},
   "encoding": {
    "x": {"field": "x", "type": "quantitative", "scale": {"domain": [0.2, 0.7], "nice": false, "zero": false},
      "axis": {"title": "ν¹⁄² [(V s⁻¹)¹⁄²]", "values": [0.2,0.25,0.3,0.35,0.4,0.45,0.5,0.55,0.6,0.65,0.7], "format": "~g", "labelExpr": "abs(datum.value*10 - round(datum.value*10)) < 0.001 ? datum.label : ''", "labelPadding": 7, "titleX": 150, "titleY": 40, "titleBaseline": "middle", "titleAlign": "center"}},
    "y": {"field": "y", "type": "quantitative", "scale": {"domain": [30, 70], "nice": false, "zero": false},
      "axis": {"title": "Iₚ [µA]", "values": [30,35,40,45,50,55,60,65,70], "labelExpr": "datum.value % 10 === 0 ? datum.label : ''", "labelPadding": 6, "titleX": -42, "titleY": 151, "titleAngle": 270, "titleBaseline": "middle", "titleAlign": "center"}},
    "detail": {"field": "s", "type": "nominal"}
   }},
  {"data": {"name": "Cpts"},
   "mark": {"type": "point", "shape": "diamond", "size": 90, "filled": true, "opacity": 1},
   "encoding": {"x": {"field": "x", "type": "quantitative"}, "y": {"field": "y", "type": "quantitative"},
     "color": {"field": "s", "type": "nominal", "scale": {"domain": ["a", "b"], "range": ["#111111", "#1a1aff"]}, "legend": null}}},
  {"data": {"values": [{"x": 0.666, "y": 69.4, "t": "b"}, {"x": 0.668, "y": 61.2, "t": "a"}]},
   "mark": {"type": "text", "font": "Liberation Sans", "fontSize": 14, "fontWeight": "bold", "color": "#222", "align": "center", "baseline": "middle"},
   "encoding": {"x": {"field": "x", "type": "quantitative"}, "y": {"field": "y", "type": "quantitative"}, "text": {"field": "t"}}},
  {"data": {"values": [{"x": 0.416, "y": 44.8, "t": "Iₚ = 52.87 ν¹⁄² + 28.54", "s": "a"}, {"x": 0.416, "y": 42.45, "t": "Iₚ = 53.93 ν¹⁄² + 37.070", "s": "b"}]},
   "mark": {"type": "text", "font": "Liberation Sans", "fontSize": 15.5, "fontWeight": "bold", "align": "left", "baseline": "middle"},
   "encoding": {"x": {"field": "x", "type": "quantitative"}, "y": {"field": "y", "type": "quantitative"}, "text": {"field": "t"},
     "color": {"field": "s", "type": "nominal", "scale": {"domain": ["a", "b"], "range": ["#222222", "#2a2aff"]}, "legend": null}}},
  {"data": {"values": [{"x": 0.2325, "y": 67.9, "t": "C"}]},
   "mark": {"type": "text", "font": "Liberation Sans", "fontSize": 22, "fontWeight": "bold", "color": "#000", "align": "center", "baseline": "middle"},
   "encoding": {"x": {"field": "x", "type": "quantitative"}, "y": {"field": "y", "type": "quantitative"}, "text": {"field": "t"}}}
 ]
}
]
}
